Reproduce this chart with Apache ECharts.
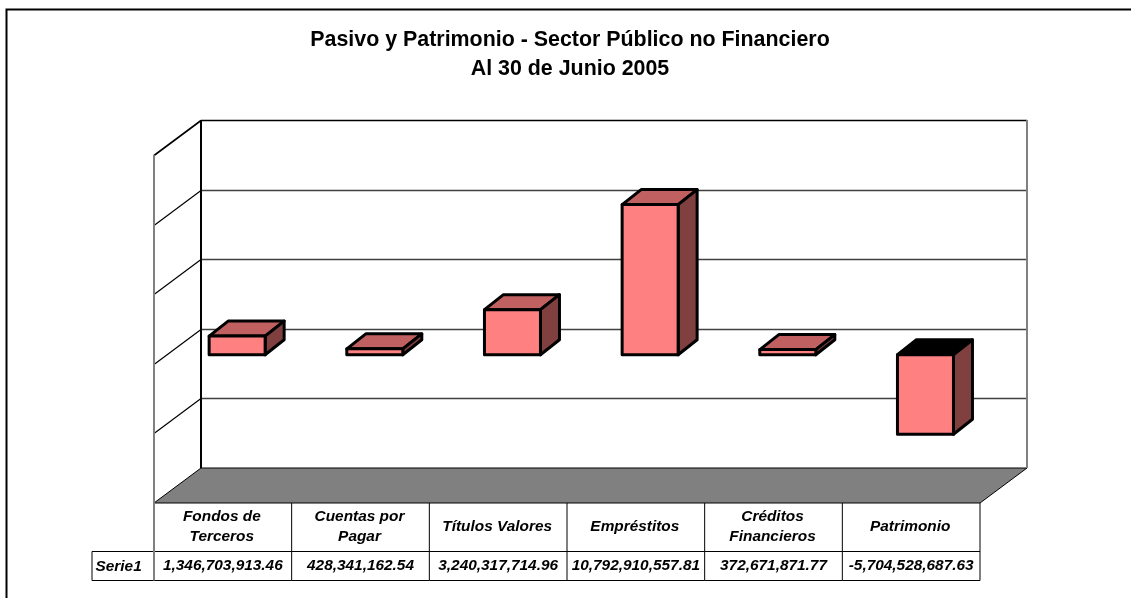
<!DOCTYPE html>
<html>
<head>
<meta charset="utf-8">
<style>
  html, body { margin: 0; padding: 0; background: #fff; }
  #chart { width: 1131px; height: 598px; }
</style>
<script src="https://cdn.jsdelivr.net/npm/echarts@6/dist/echarts.min.js"></script>
</head>
<body>
<div id="chart"></div>
<script>
const categories = ['Fondos de\nTerceros', 'Cuentas por\nPagar', 'Títulos Valores', 'Empréstitos', 'Créditos\nFinancieros', 'Patrimonio']
const seriesName = 'Serie1'
const values = [1346703913.46, 428341162.54, 3240317714.96, 10792910557.81, 372671871.77, -5704528687.63]
const yTicks = [-10e9, -5e9, 0, 5e9, 10e9, 15e9]

// depth of the fake 3d box, px
const DX = 47, DY = 35
const TEXT_FONT = 'italic bold 15.4px "Liberation Sans", Arial, sans-serif'

const chart = echarts.init(document.getElementById('chart'), null, { renderer: 'canvas' })

const line = (x1, y1, x2, y2, stroke, lineWidth) => ({
  type: 'line',
  shape: { x1, y1, x2, y2 },
  style: { stroke, lineWidth, fill: null },
})
const poly = (points, fill, stroke, lineWidth) => ({
  type: 'polygon',
  shape: { points },
  style: { fill, stroke, lineWidth, lineJoin: 'round' },
})

// floor + vertical edges, drawn once
function renderBox(params, api) {
  const x0 = params.coordSys.x
  const x1 = x0 + params.coordSys.width
  const top = api.coord([0, yTicks[yTicks.length - 1]])[1]
  const bot = api.coord([0, yTicks[0]])[1]
  return {
    type: 'group',
    children: [
      poly([[x0, bot], [x0 + DX, bot - DY], [x1 + DX, bot - DY], [x1, bot]], '#808080', '#000', 1),
      line(x0, top, x0, bot, '#808080', 2),
      line(x0 + DX, top - DY, x0 + DX, bot - DY, '#000', 2),
      line(x1 + DX, top - DY, x1 + DX, bot - DY, '#808080', 2),
    ],
  }
}

// one wall line per y tick
function renderTick(params, api) {
  const y = Math.round(api.coord([0, api.value(1)])[1]) + 0.5
  const x0 = params.coordSys.x
  const x1 = x0 + params.coordSys.width
  const isTop = params.dataIndex === yTicks.length - 1
  const isBot = params.dataIndex === 0
  if (isBot) return { type: 'group', children: [] }
  return {
    type: 'group',
    children: [
      line(x0, y, x0 + DX, y - DY, '#000', isTop ? 1.6 : 1.2),
      line(x0 + DX, y - DY, x1 + DX, y - DY, isTop ? '#000' : '#404040', isTop ? 1.6 : 1.5),
    ],
  }
}

function renderBar(params, api) {
  const i = api.value(0)
  const v = api.value(1)
  const band = api.size([1, 0])[0]
  const cx = api.coord([i, 0])[0]
  const zeroY = api.coord([i, 0])[1]
  const valY = api.coord([i, v])[1]
  // bar sits inside the depth of the box
  const w = 56, fx = 14.3, fy = -9, bx = 19, by = -15
  const left = cx - band / 2 + (band - w) / 2 + fx
  const right = left + w
  const yTop = Math.min(zeroY, valY) + fy
  const yBot = Math.max(zeroY, valY) + fy
  return {
    type: 'group',
    children: [
      poly([[left, yTop], [left + bx, yTop + by], [right + bx, yTop + by], [right, yTop]], v < 0 ? '#000' : '#c06060', '#000', 3),
      poly([[right, yTop], [right + bx, yTop + by], [right + bx, yBot + by], [right, yBot]], '#804040', '#000', 3),
      poly([[left, yTop], [right, yTop], [right, yBot], [left, yBot]], '#ff8080', '#000', 3),
    ],
  }
}

// data table below the floor
function renderTable(params, api) {
  const i = api.value(0)
  const band = api.size([1, 0])[0]
  const cx = api.coord([i, 0])[0]
  const bot = api.coord([i, yTicks[0]])[1]
  const r1 = bot + 48.5, r2 = bot + 77.5
  const xr = cx + band / 2
  const text = (t, x, y, align) => ({
    type: 'text',
    style: {
      text: t, x, y, align: align || 'center', verticalAlign: 'middle',
      font: TEXT_FONT, fill: '#000', lineHeight: 20,
    },
  })
  const money = values[i].toLocaleString('en-US', { minimumFractionDigits: 2, maximumFractionDigits: 2 })
  const children = [
    line(xr, bot, xr, r2, '#000', 1),
    line(cx - band / 2, r1, xr, r1, '#000', 1),
    line(cx - band / 2, r2, xr, r2, '#000', 1),
    text(categories[i], cx - 1, bot + 24),
    text(money, cx, bot + 62.5),
  ]
  if (i === 0) {
    const xl = cx - band / 2
    children.push(
      line(xl - 62, r1, xl, r1, '#000', 1),
      line(xl - 62, r2, xl, r2, '#000', 1),
      line(xl - 62, r1, xl - 62, r2, '#000', 1),
      line(xl, bot, xl, r2, '#808080', 2),
      text(seriesName, xl - 58.5, bot + 64, 'left')
    )
  }
  return { type: 'group', children }
}

chart.setOption({
  animation: false,
  backgroundColor: '#fff',
  title: {
    text: 'Pasivo y Patrimonio - Sector Público no Financiero\nAl 30 de Junio 2005',
    left: 565,
    top: 21,
    textAlign: 'center',
    textStyle: {
      fontFamily: '"Liberation Sans", Arial, sans-serif',
      fontSize: 21.4, fontWeight: 'bold', color: '#000', lineHeight: 29,
    },
  },
  tooltip: { show: false },
  legend: { show: false },
  grid: { left: 154, top: 155, width: 826, height: 348 },
  xAxis: { type: 'category', data: categories, show: false },
  yAxis: { type: 'value', min: yTicks[0], max: yTicks[yTicks.length - 1], interval: 5e9, show: false },
  graphic: [{
    type: 'polyline',
    shape: { points: [[6.5, 598], [6.5, 9.5], [1131, 9.5]] },
    style: { stroke: '#000', lineWidth: 2, fill: null },
  }],
  series: [
    { type: 'custom', name: 'ticks', renderItem: renderTick, data: yTicks.map(v => [0, v]), silent: true, z: 1 },
    { type: 'custom', name: 'box', renderItem: renderBox, data: [[0, 0]], silent: true, z: 2 },
    { type: 'custom', name: seriesName, renderItem: renderBar, data: values.map((v, i) => [i, v]), z: 3 },
    { type: 'custom', name: 'table', renderItem: renderTable, data: values.map((v, i) => [i, v]), silent: true, z: 4 },
  ],
})
</script>
</body>
</html>
